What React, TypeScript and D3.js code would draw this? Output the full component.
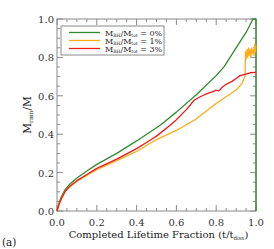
import React, { useEffect, useRef } from 'react';
import * as d3 from 'd3';

// lifetime fraction vs remaining mass fraction
const greenT = [0, 0.01, 0.02, 0.04, 0.06, 0.1, 0.15, 0.2, 0.3, 0.4, 0.47, 0.52, 0.6, 0.7, 0.8, 0.84, 0.9, 0.95, 0.985, 1.0, 1.0];
const greenV = [0, 0.04, 0.07, 0.11, 0.135, 0.172, 0.208, 0.243, 0.3, 0.365, 0.413, 0.448, 0.515, 0.605, 0.705, 0.752, 0.85, 0.93, 1.0, 1.0, 0];

const orangeT = [0, 0.01, 0.02, 0.04, 0.06, 0.1, 0.15, 0.2, 0.3, 0.4, 0.47, 0.5, 0.6, 0.635, 0.7, 0.8, 0.85, 0.9, 0.93, 0.945, 0.947, 0.95, 0.955, 0.958, 0.962, 0.966, 0.97, 0.974, 0.978, 0.982, 0.986, 0.99, 0.994, 0.997, 1.0];
const orangeV = [0, 0.035, 0.06, 0.1, 0.123, 0.155, 0.187, 0.215, 0.262, 0.31, 0.354, 0.372, 0.42, 0.44, 0.48, 0.56, 0.595, 0.63, 0.665, 0.7, 0.83, 0.79, 0.84, 0.8, 0.85, 0.81, 0.84, 0.8, 0.85, 0.82, 0.84, 0.81, 0.87, 0.83, 0.86];

const redT = [0, 0.01, 0.02, 0.04, 0.06, 0.1, 0.15, 0.2, 0.3, 0.4, 0.47, 0.5, 0.57, 0.6, 0.65, 0.69, 0.72, 0.75, 0.78, 0.8, 0.81, 0.82, 0.83, 0.85, 0.88, 0.9, 0.92, 0.95, 0.97, 1.0];
const redV = [0, 0.035, 0.06, 0.1, 0.125, 0.158, 0.19, 0.222, 0.27, 0.325, 0.37, 0.39, 0.448, 0.475, 0.528, 0.578, 0.595, 0.61, 0.62, 0.63, 0.625, 0.632, 0.645, 0.66, 0.675, 0.69, 0.705, 0.713, 0.72, 0.722];

const series = [
  { label: '0%', color: '#2e8b2e', t: greenT, v: greenV },
  { label: '1%', color: '#ffab1a', t: orangeT, v: orangeV },
  { label: '3%', color: '#f01818', t: redT, v: redV },
];

const majorTicks = [0, 0.2, 0.4, 0.6, 0.8, 1.0];

const App = () => {
  const ref = useRef<SVGSVGElement>(null);

  useEffect(() => {
    const svg = d3.select(ref.current);
    svg.selectAll('*').remove();
    const font = 'DejaVu Serif, Liberation Serif, serif';
    const axisColor = '#8a8a8a';

    const x = d3.scaleLinear().domain([0, 1]).range([57, 256]);
    const y = d3.scaleLinear().domain([0, 1]).range([211, 19]);

    const minor = d3.range(0, 1.0001, 0.05);
    const g = svg.append('g');

    // frame
    g.append('rect')
      .attr('x', x(0)).attr('y', y(1))
      .attr('width', x(1) - x(0)).attr('height', y(0) - y(1))
      .attr('fill', 'none').attr('stroke', axisColor).attr('stroke-width', 1);

    // ticks pointing inward on all four sides
    minor.forEach(t => {
      const major = majorTicks.some(m => Math.abs(m - t) < 1e-6);
      const len = major ? 6 : 3;
      g.append('line').attr('x1', x(t)).attr('x2', x(t)).attr('y1', y(0)).attr('y2', y(0) - len).attr('stroke', axisColor);
      g.append('line').attr('x1', x(t)).attr('x2', x(t)).attr('y1', y(1)).attr('y2', y(1) + len).attr('stroke', axisColor);
      g.append('line').attr('y1', y(t)).attr('y2', y(t)).attr('x1', x(0)).attr('x2', x(0) + len).attr('stroke', axisColor);
      g.append('line').attr('y1', y(t)).attr('y2', y(t)).attr('x1', x(1)).attr('x2', x(1) - len).attr('stroke', axisColor);
    });

    majorTicks.forEach(t => {
      g.append('text').attr('x', x(t)).attr('y', y(0) + 15)
        .attr('text-anchor', 'middle').attr('font-family', font).attr('font-size', 10)
        .attr('fill', '#333').text(t.toFixed(1));
      g.append('text').attr('x', x(0) - 3).attr('y', y(t) + 4)
        .attr('text-anchor', 'end').attr('font-family', font).attr('font-size', 10)
        .attr('fill', '#333').text(t.toFixed(1));
    });

    // curves
    series.forEach(s => {
      const pts: [number, number][] = s.t.map((t, i) => [x(t), y(s.v[i])]);
      g.append('path')
        .attr('d', d3.line()(pts))
        .attr('fill', 'none')
        .attr('stroke', s.color)
        .attr('stroke-width', 1.3)
        .attr('stroke-linejoin', 'round');
    });

    // legend
    const lg = g.append('g');
    lg.append('rect').attr('x', 61).attr('y', 26).attr('width', 103).attr('height', 29)
      .attr('fill', 'white').attr('stroke', axisColor);
    series.forEach((s, i) => {
      const yy = 32.5 + i * 8;
      lg.append('line').attr('x1', 69).attr('x2', 100).attr('y1', yy).attr('y2', yy)
        .attr('stroke', s.color).attr('stroke-width', 1.3);
      const t = lg.append('text').attr('x', 105).attr('y', yy + 3)
        .attr('font-family', font).attr('font-size', 8).attr('fill', '#222');
      t.append('tspan').text('M');
      t.append('tspan').attr('font-size', 4.5).attr('dy', 1.2).text('BH');
      t.append('tspan').attr('dy', -1.2).text('/M');
      t.append('tspan').attr('font-size', 4.5).attr('dy', 1.2).text('tot');
      t.append('tspan').attr('dy', -1.2).text(` = ${s.label}`);
    });

    // axis labels
    const xl = g.append('text').attr('x', (x(0) + x(1)) / 2 + 2).attr('y', 238)
      .attr('text-anchor', 'middle').attr('font-family', font).attr('font-size', 10).attr('fill', '#222');
    xl.append('tspan').text('Completed Lifetime Fraction (t/t');
    xl.append('tspan').attr('font-size', 5.5).attr('dy', 2).text('diss');
    xl.append('tspan').attr('dy', -2).text(')');

    const yl = g.append('text').attr('transform', `translate(31, ${(y(0) + y(1)) / 2}) rotate(-90)`)
      .attr('text-anchor', 'middle').attr('font-family', font).attr('font-size', 10.5).attr('fill', '#222');
    yl.append('tspan').text('M');
    yl.append('tspan').attr('font-size', 6).attr('dy', 2).text('rmn');
    yl.append('tspan').attr('dy', -2).text('/M');

    g.append('text').attr('x', 2).attr('y', 246).attr('font-family', font)
      .attr('font-size', 10.5).attr('fill', '#222').text('(a)');
  }, []);

  return (
    <svg ref={ref} width={274} height={249} style={{ position: 'absolute', left: 0, top: 0, background: 'white' }} />
  );
};

export default App;
